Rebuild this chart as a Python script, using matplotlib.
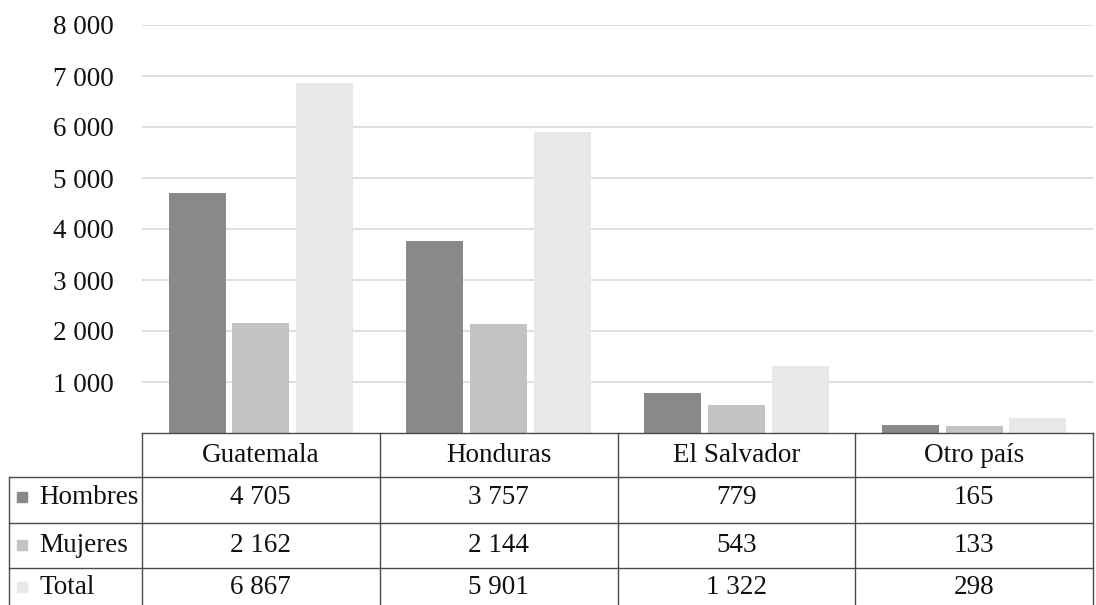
import matplotlib.pyplot as plt
import numpy as np
from matplotlib.lines import Line2D
from matplotlib.patches import Rectangle

plt.rcParams['font.family'] = ['Liberation Serif', 'DejaVu Serif']

# data
paises = ['Guatemala', 'Honduras', 'El Salvador', 'Otro país']
series = ['Hombres', 'Mujeres', 'Total']
hombres = [4705, 3757, 779, 165]
mujeres = [2162, 2144, 543, 133]
total = [6867, 5901, 1322, 298]
yticks = [1000, 2000, 3000, 4000, 5000, 6000, 7000, 8000]

colores = ['#898989', '#c3c3c3', '#e8e8e8']
valores = [hombres, mujeres, total]


def fmt(v):
    return f'{v:,}'.replace(',', ' ')


W, H = 1096, 605
fig = plt.figure(figsize=(W / 100, H / 100), dpi=100)

# plot area in pixels: left 142, right 1093, top 25 (8000), bottom 433 (0)
left, right, top, bottom = 142, 1093, 25, 433
ax = fig.add_axes([left / W, 1 - bottom / H, (right - left) / W, (bottom - top) / H])

n = len(paises)
x = np.arange(n)
bw = 0.24
gap = 0.028
for i, (vals, col) in enumerate(zip(valores, colores)):
    ax.bar(x + (i - 1) * (bw + gap), vals, width=bw, color=col, zorder=2)

fs = 19.5
ax.set_xlim(-0.5, n - 0.5)
ax.set_ylim(0, 8000)
ax.set_yticks(yticks)
ax.set_yticklabels([fmt(t) for t in yticks], fontsize=fs, color='#111111')
ax.tick_params(axis='y', length=0, pad=20.5)
ax.tick_params(axis='x', length=0, labelbottom=False)
ax.yaxis.grid(True, color='#d9d9d9', linewidth=1.2, zorder=0)
for s in ax.spines.values():
    s.set_visible(False)

# table drawn in pixel coordinates
tab = fig.add_axes([0, 0, 1, 1])
tab.set_xlim(0, W)
tab.set_ylim(H, 0)
tab.axis('off')

lc = '#4a4a4a'
lw = 1.0
col_w = (right - left) / n
col_x = [left + k * col_w for k in range(n + 1)]
row_y = [433, 477, 523, 568]
row_c = [497, 545, 587]
tab_left = 9

# horizontal lines
tab.add_line(Line2D([left, right], [row_y[0]] * 2, color=lc, lw=lw))
for yy in row_y[1:]:
    tab.add_line(Line2D([tab_left, right], [yy] * 2, color=lc, lw=lw))
# vertical lines
for xx in col_x:
    tab.add_line(Line2D([xx, xx], [row_y[0], H], color=lc, lw=lw))
tab.add_line(Line2D([tab_left, tab_left], [row_y[1], H], color=lc, lw=lw))

for k, p in enumerate(paises):
    tab.text((col_x[k] + col_x[k + 1]) / 2, (row_y[0] + row_y[1]) / 2, p,
             ha='center', va='center', fontsize=fs, color='#111111')

for name, vals, col, yc in zip(series, valores, colores, row_c):
    tab.add_patch(Rectangle((17, yc - 5), 10, 10, color=col))
    tab.text(39, yc, name, ha='left', va='center', fontsize=fs, color='#111111')
    for k, v in enumerate(vals):
        tab.text((col_x[k] + col_x[k + 1]) / 2, yc, fmt(v),
                 ha='center', va='center', fontsize=fs, color='#111111')

fig.savefig('out.png', dpi=100)
